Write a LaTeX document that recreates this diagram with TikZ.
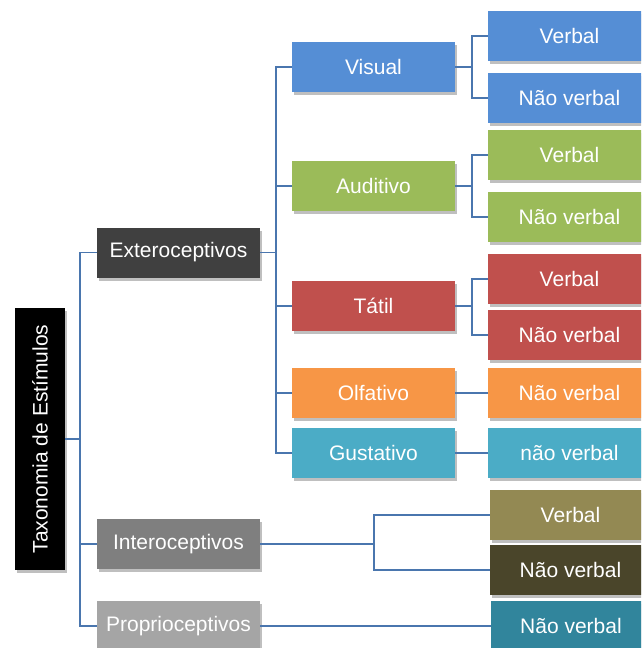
\documentclass[tikz,border=0pt]{standalone}
\usepackage{fontspec}
\setmainfont{Liberation Sans}
\usetikzlibrary{shadows}
\definecolor{cRoot}{HTML}{000000}
\definecolor{cExt}{HTML}{404040}
\definecolor{cInt}{HTML}{7F7F7F}
\definecolor{cPro}{HTML}{A5A5A5}
\definecolor{cVis}{HTML}{558ED5}
\definecolor{cAud}{HTML}{9BBB59}
\definecolor{cTat}{HTML}{C0504D}
\definecolor{cOlf}{HTML}{F79646}
\definecolor{cGus}{HTML}{4BACC6}
\definecolor{cIV}{HTML}{938953}
\definecolor{cIN}{HTML}{4A452A}
\definecolor{cPN}{HTML}{31859C}
\definecolor{cLine}{HTML}{4A76AE}
\tikzset{
  box/.style={fill=#1, text=white, font=\fontsize{21}{24}\selectfont,
    minimum width=163pt, minimum height=50pt, inner sep=0pt, anchor=center,
    drop shadow={shadow xshift=1.5pt, shadow yshift=-3pt, opacity=0.25, fill=black}},
  conn/.style={draw=cLine, line width=1.6pt}
}
\begin{document}
\begin{tikzpicture}[x=1pt,y=-1pt]
\useasboundingbox (0,0) rectangle (641,648);
\clip (0,0) rectangle (641,648);
\fill[white] (0,0) rectangle (641,648);
% root
\node[box=cRoot, minimum width=50pt, minimum height=262pt] (root) at (40,439) {};
\node[text=white, font=\fontsize{21}{24}\selectfont, rotate=90] (roottxt) at (root.center) {Taxonomia de Estímulos};
% level 1
\node[box=cExt] (ext) at (178.5,252.5) {Exteroceptivos};
\node[box=cInt] (int) at (178.5,544) {Interoceptivos};
\node[box=cPro] (pro) at (178.5,626) {Proprioceptivos};
% level 2
\node[box=cVis] (vis) at (373.5,67) {Visual};
\node[box=cAud] (aud) at (373.5,186) {Auditivo};
\node[box=cTat] (tat) at (373.5,306) {Tátil};
\node[box=cOlf] (olf) at (373.5,393) {Olfativo};
\node[box=cGus] (gus) at (373.5,453) {Gustativo};
% level 3
\node[box=cVis] (vv) at (569.5,36) {Verbal};
\node[box=cVis] (vn) at (569.5,98) {Não verbal};
\node[box=cAud] (av) at (569.5,155) {Verbal};
\node[box=cAud] (an) at (569.5,217) {Não verbal};
\node[box=cTat] (tv) at (569.5,279) {Verbal};
\node[box=cTat] (tn) at (569.5,335) {Não verbal};
\node[box=cOlf] (on) at (569.5,393) {Não verbal};
\node[box=cGus] (gn) at (569.5,453) {não verbal};
\node[box=cIV, minimum width=161pt] (iv) at (570.5,515) {Verbal};
\node[box=cIN, minimum width=161pt] (in) at (570.5,570) {Não verbal};
\node[box=cPN, minimum width=160pt] (pn) at (571,626) {Não verbal};
% connectors
\draw[conn] (root.east) -- ++(15,0);
\draw[conn] (ext.west) -- ++(-17,0) |- (pro.west);
\draw[conn] (int.west) -- ++(-17,0);
\draw[conn] (ext.east) -- ++(16,0);
\draw[conn] (vis.west) -- ++(-16,0) |- (gus.west);
\draw[conn] (aud.west) -- ++(-16,0);
\draw[conn] (tat.west) -- ++(-16,0);
\draw[conn] (olf.west) -- ++(-16,0);
\draw[conn] (vis.east) -- ++(17,0);
\draw[conn] (vv.west) -- ++(-16,0) |- (vn.west);
\draw[conn] (aud.east) -- ++(17,0);
\draw[conn] (av.west) -- ++(-16,0) |- (an.west);
\draw[conn] (tat.east) -- ++(17,0);
\draw[conn] (tv.west) -- ++(-16,0) |- (tn.west);
\draw[conn] (olf.east) -- (on.west);
\draw[conn] (gus.east) -- (gn.west);
\draw[conn] (int.east) -- ++(114,0);
\draw[conn] (iv.west) -- ++(-116,0) |- (in.west);
\draw[conn] (pro.east) -- (pn.west);
\end{tikzpicture}
\end{document}
